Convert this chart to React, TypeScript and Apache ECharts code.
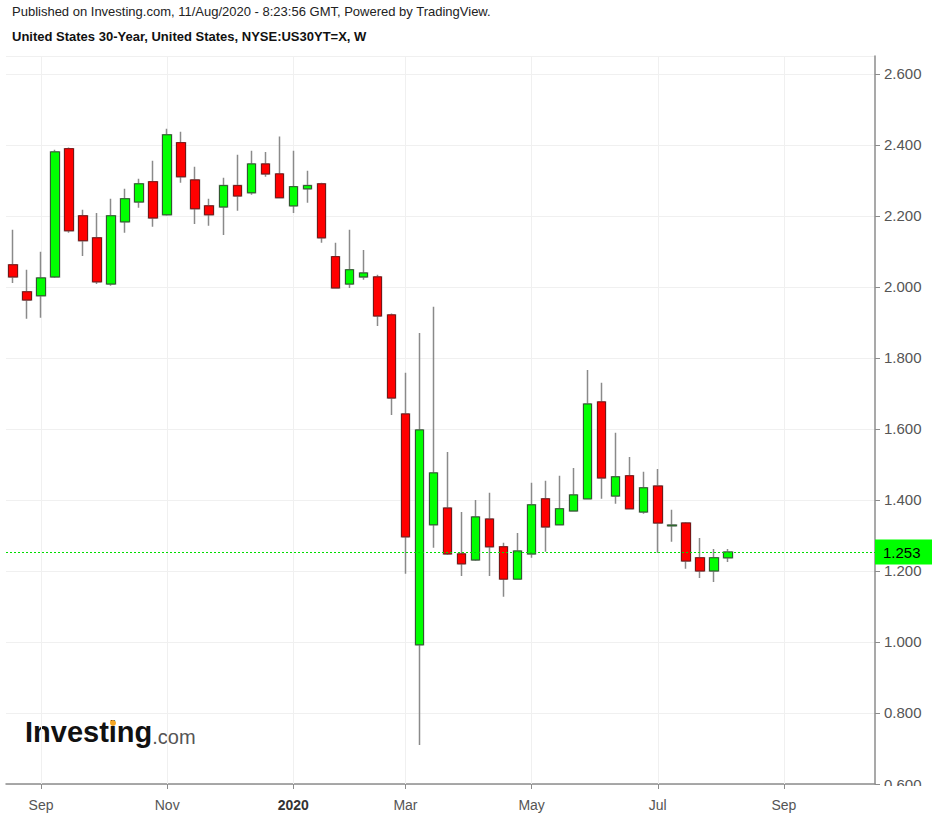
import React, { useEffect, useRef } from "react";
import * as echarts from "echarts";

// ---- data (weekly candles, US 30Y yield) ----
const firstWeekUTC = [2019, 7, 19]; // Monday 19 Aug 2019
const weekCount = 62; // axis runs into Oct 2020
const monthNames = ["Jan", "Feb", "Mar", "Apr", "May", "Jun", "Jul", "Aug", "Sep", "Oct", "Nov", "Dec"];

const opens = [
  2.062, 1.986, 1.975, 2.028, 2.389, 2.2, 2.138, 2.008, 2.183, 2.239,
  2.296, 2.203, 2.406, 2.301, 2.228, 2.225, 2.285, 2.265, 2.346, 2.318,
  2.228, 2.276, 2.29, 2.085, 2.008, 2.028, 2.028, 1.921, 1.642, 0.992,
  1.33, 1.377, 1.248, 1.231, 1.346, 1.268, 1.177, 1.248, 1.403, 1.33,
  1.369, 1.403, 1.676, 1.411, 1.468, 1.366, 1.439, 1.327, 1.335, 1.237,
  1.2, 1.237,
];
const closes = [
  2.028, 1.963, 2.025, 2.38, 2.158, 2.13, 2.014, 2.2, 2.248, 2.29,
  2.194, 2.428, 2.31, 2.22, 2.203, 2.285, 2.256, 2.346, 2.318, 2.251,
  2.282, 2.285, 2.138, 1.997, 2.048, 2.039, 1.918, 1.687, 1.296, 1.597,
  1.476, 1.248, 1.22, 1.352, 1.268, 1.177, 1.256, 1.386, 1.324, 1.375,
  1.414, 1.67, 1.462, 1.465, 1.375, 1.434, 1.335, 1.329, 1.228, 1.2,
  1.237, 1.253,
];
const lows = [
  2.011, 1.91, 1.913, 2.025, 2.152, 2.087, 2.008, 2.003, 2.152, 2.223,
  2.169, 2.2, 2.293, 2.177, 2.172, 2.146, 2.214, 2.259, 2.31, 2.25,
  2.208, 2.237, 2.124, 1.995, 1.997, 2.02, 1.89, 1.639, 1.192, 0.71,
  1.265, 1.245, 1.186, 1.228, 1.186, 1.127, 1.177, 1.237, 1.254, 1.33,
  1.369, 1.403, 1.403, 1.389, 1.375, 1.361, 1.251, 1.282, 1.206, 1.18,
  1.169, 1.225,
];
const highs = [
  2.161, 2.048, 2.099, 2.386, 2.392, 2.217, 2.208, 2.248, 2.276, 2.304,
  2.355, 2.445, 2.437, 2.338, 2.248, 2.307, 2.372, 2.383, 2.38, 2.423,
  2.383, 2.327, 2.293, 2.124, 2.161, 2.104, 2.034, 1.925, 1.758, 1.87,
  1.944, 1.535, 1.366, 1.4, 1.42, 1.279, 1.307, 1.448, 1.454, 1.468,
  1.49, 1.766, 1.73, 1.589, 1.521, 1.479, 1.487, 1.372, 1.338, 1.293,
  1.262, 1.262,
];

const yMin = 0.6;
const yMax = 2.65;
const yStep = 0.2;

const headerLine1 = "Published on Investing.com, 11/Aug/2020 - 8:23:56 GMT, Powered by TradingView.";
const headerLine2 = "United States 30-Year, United States, NYSE:US30YT=X, W";
const logoMain = "Investing";
const logoSuffix = ".com";

const FONT = '"Liberation Sans", Arial, Helvetica, sans-serif';
const PRICE_GREEN = "#00dd00";
const WICK_GRAY = "#8a8a8a";

function buildWeeks(): Date[] {
  const t0 = Date.UTC(firstWeekUTC[0], firstWeekUTC[1], firstWeekUTC[2]);
  const out: Date[] = [];
  for (let i = 0; i < weekCount; i++) out.push(new Date(t0 + i * 7 * 86400000));
  return out;
}

export default function App() {
  const ref = useRef<HTMLDivElement | null>(null);

  useEffect(() => {
    if (!ref.current) return;
    const chart = echarts.init(ref.current, null, { renderer: "svg" });

    const weeks = buildWeeks();
    const weekKeys = weeks.map((d) => d.toISOString().slice(0, 10));
    // label the first week of every odd month (Jan, Mar, May, Jul, Sep, Nov)
    const labelText: Record<number, string> = {};
    weeks.forEach((d, i) => {
      if (i === 0) return;
      const m = d.getUTCMonth();
      if (m !== weeks[i - 1].getUTCMonth() && m % 2 === 0) {
        labelText[i] = m === 0 ? "{y|" + d.getUTCFullYear() + "}" : monthNames[m];
      }
    });
    const labelIdx = Object.keys(labelText).map(Number);
    const isLabel = (i: number) => labelText[i] !== undefined;

    const wickData = opens.map((o, i) => [o, closes[i], lows[i], highs[i]]);
    const bodyData = opens.map((o, i) => [o, closes[i], Math.min(o, closes[i]), Math.max(o, closes[i])]);
    const lastPrice = closes[closes.length - 1];

    chart.setOption({
      animation: false,
      backgroundColor: "#ffffff",
      textStyle: { fontFamily: FONT },
      grid: { left: 6, right: 57, top: 56, bottom: 35, containLabel: false },
      xAxis: {
        type: "category",
        data: weekKeys,
        boundaryGap: true,
        axisLine: { show: true, lineStyle: { color: "#8c8c8c", width: 1.5 } },
        axisTick: {
          show: true,
          alignWithLabel: true,
          interval: (i: number) => isLabel(i),
          length: 5,
          lineStyle: { color: "#8c8c8c" },
        },
        axisLabel: {
          interval: (i: number) => isLabel(i),
          formatter: (_v: string, i: number) => labelText[i] || "",
          color: "#555555",
          fontSize: 14,
          fontFamily: FONT,
          margin: 14,
          rich: { y: { fontWeight: "bold", color: "#333333", fontSize: 14, fontFamily: FONT } },
        },
        splitLine: { show: false },
      },
      yAxis: {
        type: "value",
        position: "right",
        min: yMin,
        max: yMax,
        interval: yStep,
        axisLine: { show: true, lineStyle: { color: "#8c8c8c", width: 1.5 } },
        axisTick: { show: true, length: 5, lineStyle: { color: "#8c8c8c" } },
        axisLabel: {
          formatter: (v: number) => v.toFixed(3),
          color: "#555555",
          fontSize: 15,
          fontFamily: FONT,
          margin: 9,
          showMaxLabel: false,
        },
        splitLine: { show: true, lineStyle: { color: "#f0f0f0", width: 1 } },
      },
      series: [
        {
          name: "wicks",
          type: "candlestick",
          data: wickData,
          barWidth: 9,
          silent: true,
          z: 2,
          itemStyle: {
            color: WICK_GRAY,
            color0: WICK_GRAY,
            borderColor: WICK_GRAY,
            borderColor0: WICK_GRAY,
            borderWidth: 1.5,
          },
          markLine: {
            silent: true,
            symbol: "none",
            z: 1,
            label: { show: false },
            lineStyle: { color: "#f0f0f0", type: "solid", width: 1 },
            data: labelIdx.map((i) => ({
              xAxis: weekKeys[i],
              lineStyle: { color: "#f0f0f0", type: "solid", width: 1 },
            })),
          },
        },
        {
          name: "US30Y",
          type: "candlestick",
          data: bodyData,
          barWidth: 9,
          silent: true,
          z: 3,
          itemStyle: {
            color: "#00ff00",
            color0: "#ff0000",
            borderColor: "#2f5a2f",
            borderColor0: "#7a1515",
            borderWidth: 1,
          },
          markLine: {
            silent: true,
            symbol: "none",
            precision: 3,
            z: 4,
            lineStyle: { color: PRICE_GREEN, type: [2, 2], width: 1 },
            label: {
              show: true,
              position: "end",
              distance: 0,
              formatter: (p: any) => Number(p.value).toFixed(3),
              backgroundColor: "#00ff00",
              color: "#000000",
              fontSize: 15,
              fontFamily: FONT,
              padding: [5, 12, 5, 8],
            },
            data: [
              {
                yAxis: lastPrice,
                lineStyle: { color: PRICE_GREEN, type: [2, 2], width: 1 },
              },
            ],
          },
        },
      ],
      graphic: [
        {
          type: "text",
          left: 12,
          top: 5,
          style: { text: headerLine1, font: "13px " + FONT, fill: "#222222" },
        },
        {
          type: "text",
          left: 12,
          top: 30,
          style: { text: headerLine2, font: "bold 13px " + FONT, fill: "#111111" },
        },
        {
          type: "text",
          x: 25,
          y: 732,
          style: {
            text: "{a|" + logoMain + "}{b|" + logoSuffix + "}",
            verticalAlign: "middle",
            rich: {
              a: { fontSize: 29, fontWeight: "bold", fontFamily: FONT, fill: "#111111", verticalAlign: "bottom" },
              b: { fontSize: 20, fontFamily: FONT, fill: "#555555", verticalAlign: "bottom" },
            },
          },
        },
        {
          type: "circle",
          shape: { cx: 113, cy: 723, r: 3 },
          style: { fill: "#f5a623" },
          z: 10,
        },
        {
          type: "rect",
          shape: { x: 876, y: 786, width: 56, height: 33 },
          style: { fill: "#ffffff" },
          z: 100,
        },
      ],
    });

    return () => chart.dispose();
  }, []);

  return (
    <div
      ref={ref}
      style={{ position: "absolute", left: 0, top: 0, width: 932, height: 819, background: "#fff" }}
    />
  );
}
